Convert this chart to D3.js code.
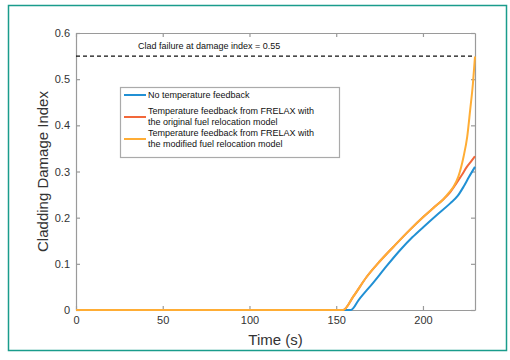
<!DOCTYPE html>
<html>
<head>
<meta charset="utf-8">
<script src="https://cdn.jsdelivr.net/npm/d3@7"></script>
<style>
  body { margin: 0; background: #fff; }
  text { font-family: "Liberation Sans", Arial, sans-serif; }
</style>
</head>
<body>
<div id="chart"></div>
<script>
// Data
const xTicks = [0, 50, 100, 150, 200];
const yTicks = [0, 0.1, 0.2, 0.3, 0.4, 0.5, 0.6];
const failureIndex = 0.55;

const blueTime = [0, 158.5, 163, 171.5, 179, 186.9, 194, 200.3, 208, 215.7, 220, 223.4, 226.5, 230];
const blueValue = [0, 0, 0.022, 0.06, 0.095, 0.13, 0.158, 0.18, 0.206, 0.231, 0.247, 0.267, 0.288, 0.31];

const redTime = [0, 154, 160, 167.6, 175, 183, 192, 200.3, 206, 211.8, 215, 219.5, 222.5, 225.3, 228, 230];
const redValue = [0, 0, 0.03, 0.072, 0.105, 0.137, 0.172, 0.202, 0.221, 0.24, 0.252, 0.276, 0.293, 0.31, 0.323, 0.333];

const orangeTime = [0, 154, 160, 167.6, 175, 183, 192, 200.3, 206, 211.8, 215, 217.6, 220.5, 223.4, 225.5, 227.2, 228.8, 230];
const orangeValue = [0, 0, 0.03, 0.072, 0.105, 0.137, 0.172, 0.202, 0.221, 0.24, 0.254, 0.267, 0.29, 0.332, 0.375, 0.433, 0.49, 0.549];

const seriesNames = [
  ["No temperature feedback"],
  ["Temperature feedback from FRELAX with", "the original fuel relocation model"],
  ["Temperature feedback from FRELAX with", "the modified fuel relocation model"],
];
const seriesColors = ["#2190d4", "#f2683a", "#ffad35"];

var width = 510;
var height = 360;
var margin = { left: 76, right: 35, top: 33, bottom: 50 };

var svg = d3
  .select("#chart")
  .append("svg")
  .attr("width", width)
  .attr("height", height);

// Teal frame around the figure
svg
  .append("rect")
  .attr("x", 8.5)
  .attr("y", 5.5)
  .attr("width", 498)
  .attr("height", 345)
  .attr("fill", "none")
  .attr("stroke", "#1a9c8c")
  .attr("stroke-width", 1.5);

var x = d3.scaleLinear().domain([0, 230]).range([margin.left, width - margin.right]);
var y = d3.scaleLinear().domain([0, 0.6]).range([height - margin.bottom, margin.top]);

var axisColor = "#9a9a9a";

// Axes with inward ticks (box style)
var gx = svg
  .append("g")
  .attr("transform", "translate(0," + y(0) + ")")
  .call(d3.axisBottom(x).tickValues(xTicks).tickSize(-4).tickSizeOuter(0).tickPadding(6));
var gy = svg
  .append("g")
  .attr("transform", "translate(" + x(0) + ",0)")
  .call(
    d3.axisLeft(y).tickValues(yTicks).tickSize(-4).tickSizeOuter(0).tickPadding(6)
      .tickFormat(function (d) { return d === 0 ? "0" : d3.format(".1f")(d); })
  );
var gxTop = svg
  .append("g")
  .attr("transform", "translate(0," + y(0.6) + ")")
  .call(d3.axisTop(x).tickValues(xTicks).tickSize(-4).tickSizeOuter(0).tickFormat(""));
var gyRight = svg
  .append("g")
  .attr("transform", "translate(" + x(230) + ",0)")
  .call(d3.axisRight(y).tickValues(yTicks).tickSize(-4).tickSizeOuter(0).tickFormat(""));

[gx, gy, gxTop, gyRight].forEach(function (g) {
  g.selectAll("path, line").attr("stroke", axisColor).attr("stroke-width", 1.2);
  g.selectAll("text").attr("fill", "#333").style("font-size", "11px");
});

// Failure threshold
svg
  .append("line")
  .attr("x1", x(0))
  .attr("x2", x(230))
  .attr("y1", y(failureIndex))
  .attr("y2", y(failureIndex))
  .attr("stroke", "#111")
  .attr("stroke-width", 1.3)
  .attr("stroke-dasharray", "4,3");

svg
  .append("text")
  .attr("x", 138)
  .attr("y", 49)
  .style("font-size", "9px")
  .attr("fill", "#111")
  .text("Clad failure at damage index = 0.55");

// Curves
var line = d3
  .line()
  .x(function (d) { return x(d[0]); })
  .y(function (d) { return y(d[1]); })
  .curve(d3.curveMonotoneX);

var series = [
  d3.zip(blueTime, blueValue),
  d3.zip(redTime, redValue),
  d3.zip(orangeTime, orangeValue),
];

svg
  .selectAll("allCurves")
  .data(series)
  .enter()
  .append("path")
  .attr("d", line)
  .attr("fill", "none")
  .attr("stroke", function (d, i) { return seriesColors[i]; })
  .attr("stroke-width", 2);

// Legend
var legend = svg.append("g");
legend
  .append("rect")
  .attr("x", 120.5)
  .attr("y", 87.5)
  .attr("width", 219)
  .attr("height", 70)
  .attr("fill", "#fff")
  .attr("stroke", "#aaa")
  .attr("stroke-width", 1.2);

var rowY = [95, 117, 139];
var item = legend
  .selectAll("item")
  .data(seriesNames)
  .enter()
  .append("g")
  .attr("transform", function (d, i) { return "translate(0," + rowY[i] + ")"; });

item
  .append("line")
  .attr("x1", 124)
  .attr("x2", 146)
  .attr("y1", 0)
  .attr("y2", 0)
  .attr("stroke", function (d, i) { return seriesColors[i]; })
  .attr("stroke-width", 2);

item
  .selectAll("text")
  .data(function (d) { return d; })
  .enter()
  .append("text")
  .attr("x", 148)
  .attr("y", function (d, j, nodes) { return nodes.length > 1 ? (j === 0 ? -6 : 5) : 0; })
  .attr("dy", "0.35em")
  .style("font-size", "9px")
  .attr("fill", "#111")
  .text(function (d) { return d; });

// Axis titles
svg
  .append("text")
  .attr("x", x(115))
  .attr("y", 345)
  .attr("text-anchor", "middle")
  .style("font-size", "15px")
  .attr("fill", "#333")
  .text("Time (s)");

svg
  .append("text")
  .attr("transform", "translate(48," + y(0.3) + ") rotate(-90)")
  .attr("text-anchor", "middle")
  .style("font-size", "15px")
  .attr("fill", "#333")
  .text("Cladding Damage Index");
</script>
</body>
</html>
